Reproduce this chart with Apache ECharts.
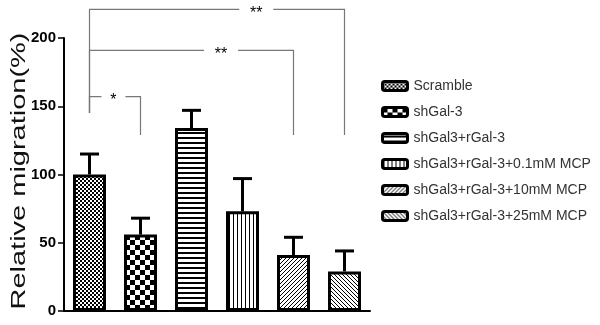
<!DOCTYPE html>
<html>
<head>
<meta charset="utf-8">
<script src="https://cdn.jsdelivr.net/npm/echarts@6/dist/echarts.min.js"></script>
<style>
  html, body { margin: 0; padding: 0; background: #fff; }
  #chart { width: 600px; height: 325px; }
</style>
</head>
<body>
<div id="chart"></div>
<script>
// groups, in legend order
var categories = ['Scramble', 'shGal-3', 'shGal3+rGal-3', 'shGal3+rGal-3+0.1mM MCP',
  'shGal3+rGal-3+10mM MCP', 'shGal3+rGal-3+25mM MCP'];
// mean relative migration (%)
var migration = [100, 56, 134, 73, 41, 29];
// top of the error bar (mean + SD)
var errorTop = [115, 68, 147, 97, 54, 44];
// significance brackets
var bracketFrom = [0, 0, 0];
var bracketTo = [1, 4, 5];
var bracketLevel = [157, 191, 221];
var bracketStarX = [0.47, 2.58, 3.27];
var bracketLabel = ['*', '**', '**'];
var bracketLeftDrop = 145;
var bracketRightDrop = 129;

// fill patterns for the bars
function makePattern(size, draw) {
  var c = document.createElement('canvas');
  c.width = size; c.height = size;
  var ctx = c.getContext('2d');
  ctx.fillStyle = '#fff';
  ctx.fillRect(0, 0, size, size);
  ctx.fillStyle = '#000';
  ctx.strokeStyle = '#000';
  draw(ctx, size);
  return { image: c, repeat: 'repeat' };
}
function diag(ctx, s, back) {
  ctx.lineWidth = 1;
  var segs = [[0, s, s, 0], [-1, 1, 1, -1], [s - 1, s + 1, s + 1, s - 1]];
  segs.forEach(function (p) {
    ctx.beginPath();
    if (back) { ctx.moveTo(s - p[0], p[1]); ctx.lineTo(s - p[2], p[3]); }
    else { ctx.moveTo(p[0], p[1]); ctx.lineTo(p[2], p[3]); }
    ctx.stroke();
  });
}
var patterns = [
  makePattern(4, function (ctx) { ctx.fillRect(0, 0, 2, 2); ctx.fillRect(2, 2, 2, 2); }),
  makePattern(10, function (ctx) { ctx.fillRect(0, 0, 5, 5); ctx.fillRect(5, 5, 5, 5); }),
  makePattern(5, function (ctx, s) { ctx.fillRect(0, 2, s, 2); }),
  makePattern(4, function (ctx, s) { ctx.fillRect(1, 0, 1, s); }),
  makePattern(4, function (ctx, s) { diag(ctx, s, false); }),
  makePattern(4, function (ctx, s) { diag(ctx, s, true); })
];

var chart = echarts.init(document.getElementById('chart'));

var series = categories.map(function (name, i) {
  return {
    name: name,
    type: 'bar',
    stack: 'all',
    barWidth: 33,
    data: migration.map(function (v, j) { return j === i ? v : '-'; }),
    itemStyle: { color: patterns[i], borderColor: '#000', borderWidth: 3 },
    emphasis: { disabled: true }
  };
});

// error bars (upper only)
series.push({
  type: 'custom',
  z: 5,
  silent: true,
  data: migration.map(function (v, i) { return [i, v, errorTop[i]]; }),
  renderItem: function (params, api) {
    var p0 = api.coord([api.value(0), api.value(1)]);
    var p1 = api.coord([api.value(0), api.value(2)]);
    var st = { stroke: '#000', lineWidth: 3 };
    return {
      type: 'group',
      children: [
        { type: 'line', shape: { x1: p0[0], y1: p0[1], x2: p1[0], y2: p1[1] }, style: st },
        { type: 'line', shape: { x1: p1[0] - 9.5, y1: p1[1], x2: p1[0] + 9.5, y2: p1[1] }, style: st }
      ]
    };
  }
});

// significance brackets
series.push({
  type: 'custom',
  z: 4,
  clip: false,
  silent: true,
  data: bracketLevel.map(function (lv, i) {
    return [bracketFrom[i], bracketTo[i], lv, bracketStarX[i], bracketLeftDrop, bracketRightDrop];
  }),
  renderItem: function (params, api) {
    var i = params.dataIndex;
    var a = api.coord([api.value(0), api.value(4)]);
    var top = api.coord([api.value(0), api.value(2)]);
    var b = api.coord([api.value(1), api.value(5)]);
    var bt = api.coord([api.value(1), api.value(2)]);
    // category axis snaps to bands, so place the star by band width
    var sx = api.value(3);
    var band = api.size([1, 0])[0];
    var base = api.coord([Math.floor(sx), api.value(2)]);
    var starX = base[0] + (sx - Math.floor(sx)) * band;
    var lbl = bracketLabel[i];
    var gap = lbl.length * 5 + 7;
    var st = { stroke: '#777', lineWidth: 1.2, fill: null };
    return {
      type: 'group',
      children: [
        { type: 'polyline', shape: { points: [[a[0], a[1]], [top[0], top[1]], [starX - gap, top[1]]] }, style: st },
        { type: 'polyline', shape: { points: [[starX + gap, bt[1]], [bt[0], bt[1]], [b[0], b[1]]] }, style: st },
        { type: 'text', x: starX, y: top[1] + 4,
          style: { text: lbl, fill: '#000', font: '16px "Liberation Sans", Arial, sans-serif',
            textAlign: 'center', textVerticalAlign: 'middle' } }
      ]
    };
  }
});

var option = {
  backgroundColor: '#fff',
  animation: false,
  grid: { left: 64, right: 230, top: 38, bottom: 14, containLabel: false },
  xAxis: {
    type: 'category',
    data: categories,
    axisLine: { lineStyle: { color: '#000', width: 2 } },
    axisTick: { alignWithLabel: true, length: 7, lineStyle: { color: '#000', width: 1.5 } },
    axisLabel: { show: false },
    splitLine: { show: false }
  },
  yAxis: {
    type: 'value',
    min: 0,
    max: 200,
    interval: 50,
    axisLine: { show: true, lineStyle: { color: '#000', width: 2 } },
    axisTick: { show: true, length: 6, lineStyle: { color: '#000', width: 1.5 } },
    axisLabel: { color: '#000', fontWeight: 'bold', fontSize: 15, margin: 8,
      fontFamily: '"Liberation Sans Narrow", "Liberation Sans", Arial, sans-serif' },
    splitLine: { show: false }
  },
  legend: {
    orient: 'vertical',
    left: 376,
    top: 73,
    data: categories,
    icon: 'roundRect',
    itemWidth: 25,
    itemHeight: 9,
    itemGap: 10,
    selectedMode: false,
    itemStyle: { borderColor: '#000', borderWidth: 3 },
    textStyle: { color: '#333', fontSize: 14, lineHeight: 16, padding: [0, 0, 0, 1],
      fontFamily: '"Liberation Sans", Arial, sans-serif' }
  },
  graphic: [{
    type: 'text',
    x: 19,
    y: 171,
    rotation: Math.PI / 2,
    scaleX: 1.38,
    style: {
      text: 'Relative migration(%)',
      font: '21px "Liberation Sans", Arial, sans-serif',
      fill: '#111',
      textAlign: 'center',
      textVerticalAlign: 'middle'
    }
  }],
  series: series
};
chart.setOption(option);
</script>
</body>
</html>
